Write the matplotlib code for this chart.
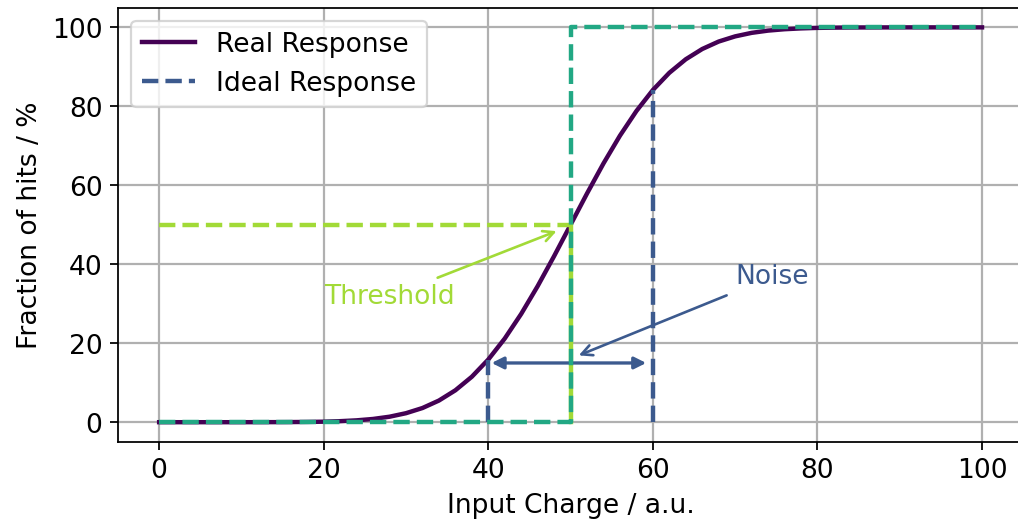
import matplotlib.pyplot as plt

# measured response curve (fraction of hits vs injected charge)
charge = list(range(0, 102, 2))
hits = [0.0, 0.0, 0.0, 0.0, 0.0, 0.003, 0.007, 0.016, 0.034, 0.069,
        0.13, 0.26, 0.47, 0.82, 1.39, 2.28, 3.59, 5.48, 8.08, 11.51,
        15.87, 21.19, 27.43, 34.46, 42.07, 50.0, 57.93, 65.54, 72.57, 78.81,
        84.13, 88.49, 91.92, 94.52, 96.41, 97.72, 98.61, 99.18, 99.53, 99.74,
        99.87, 99.93, 99.97, 99.98, 99.99, 100.0, 100.0, 100.0, 100.0, 100.0,
        100.0]

# ideal step response
ideal_x = [0, 50, 50, 100]
ideal_y = [0, 0, 100, 100]

threshold = 50
noise_lo, noise_hi = 40, 60
noise_lo_hits, noise_hi_hits = 15.87, 84.13

purple = '#440154'
blue = '#3c5a8e'
teal = '#22a884'
lime = '#a2da37'

fig = plt.figure(figsize=(6.4, 3.3), dpi=159.2)
ax = fig.add_axes([0.1158, 0.1581, 0.8884, 0.8267])

ax.plot(charge, hits, color=purple, lw=2, label='Real Response', zorder=3)
ax.plot([0, threshold], [50, 50], '--', color=lime, lw=2, zorder=3)
ax.plot([threshold, threshold], [0, 50], '-', color=lime, lw=2, zorder=3)
ax.plot([noise_lo, noise_lo], [0, noise_lo_hits], '--', color=blue, lw=2,
        label='Ideal Response', zorder=4)
ax.plot([noise_hi, noise_hi], [0, noise_hi_hits], '--', color=blue, lw=2, zorder=4)
ax.plot(ideal_x, ideal_y, '--', color=teal, lw=2, zorder=4)

ax.annotate('', xy=(noise_lo, 15), xytext=(noise_hi, 15),
            arrowprops=dict(arrowstyle='<|-|>', color=blue, lw=1.5,
                            shrinkA=3, shrinkB=1.5, mutation_scale=11))
ax.annotate('Noise', xy=(50.5, 16.5), xytext=(70, 35), color=blue, fontsize=12,
            arrowprops=dict(arrowstyle='->', color=blue, lw=1.2))
ax.annotate('Threshold', xy=(48.8, 48.8), xytext=(20, 30), color=lime, fontsize=12,
            arrowprops=dict(arrowstyle='->', color=lime, lw=1.2))

ax.set_xlim(-5, 105)
ax.set_ylim(-5, 105)
ax.grid(color='#b0b0b0', lw=1)
ax.set_axisbelow(True)
ax.tick_params(labelsize=12)
ax.set_xlabel('Input Charge / a.u.', fontsize=12)
ax.set_ylabel('Fraction of hits / %', fontsize=12)
ax.legend(loc='upper left', fontsize=12)

fig.savefig('out.png')
